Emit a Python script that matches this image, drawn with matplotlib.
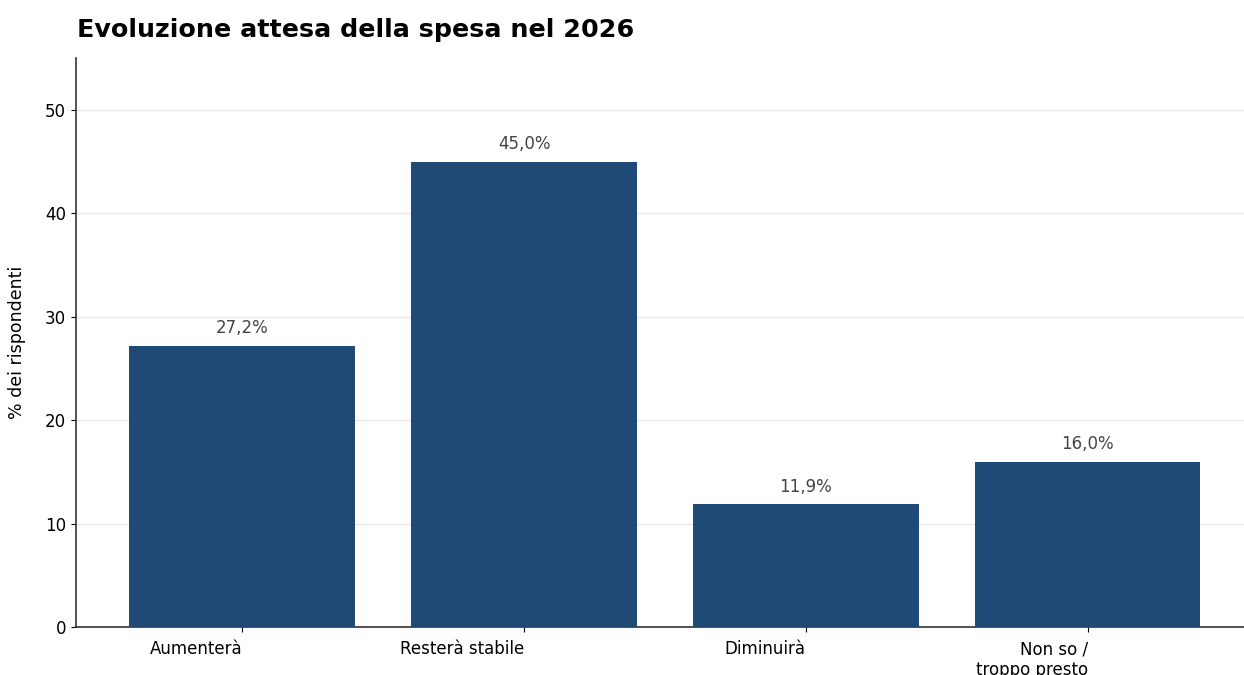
import matplotlib
matplotlib.use("Agg")
import matplotlib.pyplot as plt

categorie = ["Aumenterà", "Resterà stabile", "Diminuirà", "Non so /\ntroppo presto"]
valori = [27.2, 45.0, 11.9, 16.0]
etichette = ["27,2%", "45,0%", "11,9%", "16,0%"]

fig = plt.figure(figsize=(12.44, 6.75), dpi=100)
ax = fig.add_axes([0.061, 0.071, 0.947, 0.843])

x = range(len(categorie))
bars = ax.bar(x, valori, width=0.8, color="#1f4a75", zorder=3)

# etichette sopra le barre
for b, t in zip(bars, etichette):
    ax.text(b.get_x() + b.get_width() / 2, b.get_height() + 0.8, t,
            ha="center", va="bottom", fontsize=12, color="#444444")

ax.set_xticks(list(x))
ax.set_xticklabels(categorie, ha="right", fontsize=12, multialignment="right")
ax.tick_params(axis="x", pad=6)
ax.set_ylim(0, 55)
ax.set_xlim(-0.59, 3.59)
ax.set_yticks([0, 10, 20, 30, 40, 50])
ax.tick_params(axis="y", labelsize=12)
ax.set_ylabel("% dei rispondenti", fontsize=12.5, labelpad=14)
ax.grid(axis="y", color="#e8e8e8", linewidth=1, zorder=0)

ax.spines["top"].set_visible(False)
ax.spines["right"].set_visible(False)
for s in ("left", "bottom"):
    ax.spines[s].set_color("#333333")
    ax.spines[s].set_linewidth(1.2)

fig.text(0.062, 0.955, "Evoluzione attesa della spesa nel 2026",
         fontsize=18.3, fontweight="bold", ha="left", va="center")

fig.savefig("out.png", dpi=100)
